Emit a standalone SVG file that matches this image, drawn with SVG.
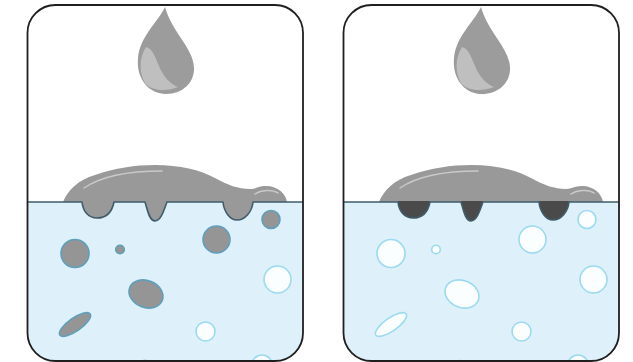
<svg xmlns="http://www.w3.org/2000/svg" width="633" height="362" viewBox="0 0 633 362">
  <style>
    .frame { fill: none; stroke: #1f1f1f; stroke-width: 1.8; }
    .water { fill: #def0f9; }
    .surface { fill: none; stroke: #3f5c6b; stroke-width: 1.6; stroke-linejoin: round; }
    .oil { fill: #999999; }
    .drop { fill: #9c9c9c; }
    .drop-hl { fill: #bfbfbf; }
    .shine { fill: none; stroke: #c9c9c9; stroke-width: 1.5; stroke-linecap: round; }
    .particle { fill: #959595; stroke: #5f9fbb; stroke-width: 1.6; }
    .bubble { fill: #fbfeff; stroke: #9bdaf1; stroke-width: 1.6; }
    .drip-dark { fill: #4a4a4a; }
  </style>
  <defs>
    <clipPath id="panelClip">
      <rect x="27.5" y="5" width="275.5" height="356" rx="28"/>
    </clipPath>
    <!-- falling droplet -->
    <path id="dropShape" d="M 165 7 C 158 22, 140 36, 138 58 C 136 80, 150 94, 166 94 C 183 94, 195 82, 194 67 C 193 48, 172 32, 165 7 Z"/>
    <path id="dropHighlight" d="M 146 47 C 139 58, 139 73, 145 83 C 151 91, 166 92, 178 87 C 170 84, 163 76, 159 66 C 155 57, 153 49, 146 47 Z"/>
    <!-- spreading slick on the surface -->
    <path id="slick" d="M 63 202 C 68 190, 78 180, 95 175 C 115 168, 135 165, 155 165 C 180 165, 200 170, 215 178 C 228 185, 238 189, 250 189 C 256 189, 258 186, 266 186 C 278 186, 286 194, 287 202 Z"/>
    <!-- lobes hanging below the surface -->
    <path id="drips" d="M 82 201 C 83 212, 89 218, 97 218 C 106 218, 112 212, 114 201 Z M 145 201 C 147 208, 149 221, 155 221 C 161 221, 164 210, 167 201 Z M 223 201 C 224 212, 230 220, 237 220 C 245 220, 252 212, 253 201 Z"/>
    <path id="surfaceLine" d="M 20 202 H 82 C 83 212, 89 218, 97 218 C 106 218, 112 212, 114 202 H 145 C 147 208, 149 221, 155 221 C 161 221, 164 210, 167 202 H 223 C 224 212, 230 220, 237 220 C 245 220, 252 212, 253 202 H 310"/>
    <g id="shines">
      <path class="shine" d="M 84 188 C 100 177, 128 171, 162 171"/>
      <path class="shine" d="M 255 194 C 261 190, 272 189, 278 193"/>
    </g>
  </defs>

  <!-- left panel: dispersed oil droplets -->
  <g id="panel-left">
    <g clip-path="url(#panelClip)">
      <rect class="water" x="20" y="202" width="290" height="170"/>
      <g id="left-particles">
        <circle class="particle" cx="271" cy="219.5" r="9"/>
        <circle class="particle" cx="216.5" cy="239.5" r="13.5"/>
        <circle class="particle" cx="75" cy="253.5" r="14"/>
        <circle class="particle" cx="120" cy="249.5" r="4.3"/>
        <ellipse class="particle" cx="146" cy="294" rx="17.5" ry="13.5" transform="rotate(22 146 294)"/>
        <ellipse class="particle" cx="75" cy="324.5" rx="18.5" ry="6.5" transform="rotate(-35 75 324.5)"/>
        <circle class="particle" cx="145" cy="371" r="10.5"/>
        <circle class="bubble" cx="277.5" cy="279.5" r="13.5"/>
        <circle class="bubble" cx="205.5" cy="331.5" r="9.5"/>
        <circle class="bubble" cx="262" cy="365.5" r="10.5"/>
      </g>
      <g id="left-slick">
        <use href="#slick" class="oil"/>
        <use href="#drips" class="oil"/>
        <use href="#surfaceLine" class="surface"/>
        <use href="#shines"/>
      </g>
      <g id="left-drop">
        <use href="#dropShape" class="drop"/>
        <use href="#dropHighlight" class="drop-hl"/>
      </g>
    </g>
    <rect class="frame" x="27.5" y="5" width="275.5" height="356" rx="28"/>
  </g>

  <!-- right panel: air bubbles, darkened lobes -->
  <g id="panel-right" transform="translate(316 0)">
    <g clip-path="url(#panelClip)">
      <rect class="water" x="20" y="202" width="290" height="170"/>
      <g id="right-bubbles">
        <circle class="bubble" cx="271" cy="219.5" r="9"/>
        <circle class="bubble" cx="216.5" cy="239.5" r="13.5"/>
        <circle class="bubble" cx="75" cy="253.5" r="14"/>
        <circle class="bubble" cx="120" cy="249.5" r="4.3"/>
        <ellipse class="bubble" cx="146" cy="294" rx="17.5" ry="13.5" transform="rotate(22 146 294)"/>
        <ellipse class="bubble" cx="75" cy="324.5" rx="18.5" ry="6.5" transform="rotate(-35 75 324.5)"/>
        <circle class="bubble" cx="145" cy="371" r="10.5"/>
        <circle class="bubble" cx="277.5" cy="279.5" r="13.5"/>
        <circle class="bubble" cx="205.5" cy="331.5" r="9.5"/>
        <circle class="bubble" cx="262" cy="365.5" r="10.5"/>
      </g>
      <g id="right-slick">
        <use href="#slick" class="oil"/>
        <use href="#drips" class="drip-dark"/>
        <use href="#surfaceLine" class="surface"/>
        <use href="#shines"/>
      </g>
      <g id="right-drop">
        <use href="#dropShape" class="drop"/>
        <use href="#dropHighlight" class="drop-hl"/>
      </g>
    </g>
    <rect class="frame" x="27.5" y="5" width="275.5" height="356" rx="28"/>
  </g>
</svg>
